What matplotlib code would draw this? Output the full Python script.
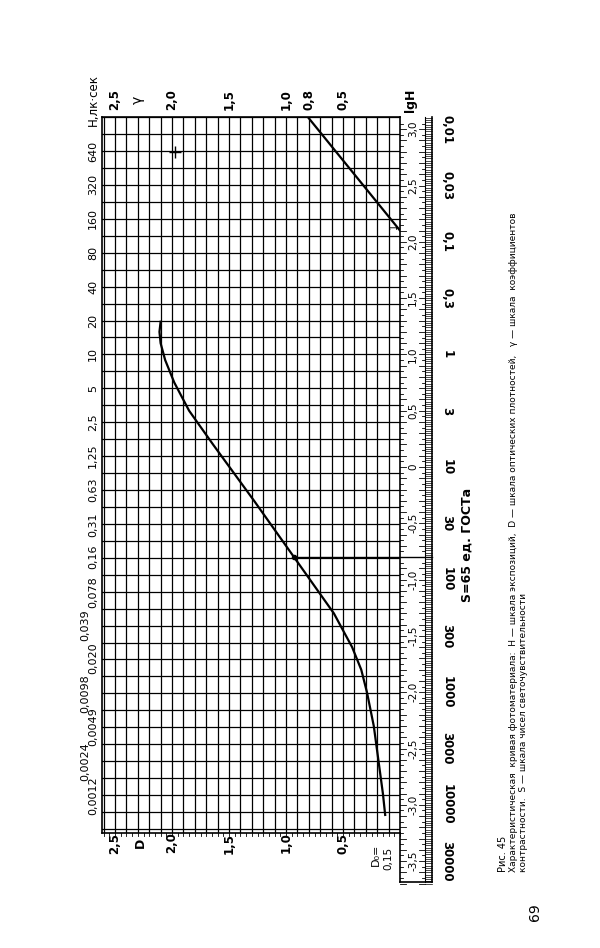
import matplotlib
matplotlib.use("Agg")
import matplotlib.pyplot as plt
import numpy as np

plt.rcParams['font.family'] = ['DejaVu Sans']

# characteristic curve
curve_lgH = [-3.09, -2.9, -2.6, -2.3, -2.0, -1.8, -1.6, -1.45, -1.3, -0.8, -0.3, 0.2, 0.5, 0.75, 0.95, 1.1, 1.2, 1.29]
curve_D = [0.13, 0.15, 0.19, 0.23, 0.29, 0.34, 0.42, 0.50, 0.58, 0.93, 1.28, 1.64, 1.85, 1.98, 2.06, 2.10, 2.11, 2.10]
# gamma line
gamma_lgH = [2.1, 3.11]
gamma_D = [0.0, 0.81]
# sensitivity point
s_point = (0.93, -0.8)

D_labels = ["2,5", "2,0", "1,5", "1,0", "0,5"]
D_vals = [2.5, 2.0, 1.5, 1.0, 0.5]
G_labels = ["2,5", "2,0", "1,5", "1,0", "0,8", "0,5"]
G_vals = [2.5, 2.0, 1.5, 1.0, 0.8, 0.5]
H_labels = ["0,0012", "0,0024", "0,0049", "0,0098", "0,020", "0,039", "0,078", "0,16", "0,31", "0,63",
            "1,25", "2,5", "5", "10", "20", "40", "80", "160", "320", "640"]
H_vals = [0.0012, 0.0024, 0.0049, 0.0098, 0.020, 0.039, 0.078, 0.16, 0.31, 0.63,
          1.25, 2.5, 5, 10, 20, 40, 80, 160, 320, 640]
lg_vals = [3.0, 2.5, 2.0, 1.5, 1.0, 0.5, 0.0, -0.5, -1.0, -1.5, -2.0, -2.5, -3.0, -3.5]
lg_labels = ["3,0", "2,5", "2,0", "1,5", "1,0", "0,5", "0", "-0,5", "-1,0", "-1,5", "-2,0", "-2,5", "-3,0", "-3,5"]
S_labels = ["0,01", "0,03", "0,1", "0,3", "1", "3", "10", "30", "100", "300", "1000", "3000", "10000", "30000"]

W, Hh = 600, 948
fig = plt.figure(figsize=(6, 9.48), dpi=100)
x0, x1, ytop, ybot = 102, 400, 117, 833
ax = fig.add_axes([x0 / W, 1 - ybot / Hh, (x1 - x0) / W, (ybot - ytop) / Hh])
PXD = 114.0
PXL = 112.6
ax.set_xlim((x1 - x0) / PXD, 0)
ax.set_ylim((467 - ybot) / PXL, (467 - ytop) / PXL)
ax.set_xticks([]); ax.set_yticks([])
for s in ax.spines.values():
    s.set_linewidth(1.2)

def dx(px):
    return (400 - px) / PXD

def ly(py):
    return (467 - py) / PXL

# grid
for d in np.arange(0.1, 2.61, 0.1):
    ax.axvline(d, color='black', lw=0.9)
for k in range(-30, 15):
    v = 1 + k * np.log10(2) / 2
    if ly(833) < v < ly(117):
        ax.axhline(v, color='black', lw=0.9)
# small D ticks under the grid
for d in np.arange(0.0, 2.61, 0.05):
    ax.plot([d, d], [ly(833), ly(836)], color='black', lw=0.6, clip_on=False)

ax.plot(curve_D, curve_lgH, color='black', lw=1.6, clip_on=False)
ax.plot(gamma_D, gamma_lgH, color='black', lw=1.6)
ax.plot([s_point[0], dx(432)], [s_point[1], s_point[1]], color='black', lw=1.0, clip_on=False)
ax.plot([s_point[0]], [s_point[1]], 'o', color='black', ms=3)
ax.plot([1.97], [2.8], '+', color='black', ms=8, mew=1)
ax.text(0.05, 2.14, "1", fontsize=7, rotation=90, ha='center', va='center')

# lgH ruler strip
top_l, bot_l = ly(117), ly(882)
xa, xb, xc = dx(400), dx(425), dx(432)
ax.plot([xb, xb], [bot_l, top_l], color='black', lw=0.8, clip_on=False)
ax.plot([xc, xc], [bot_l, top_l], color='black', lw=1.2, clip_on=False)
ax.plot([xa, xa], [bot_l, ly(833)], color='black', lw=1.2, clip_on=False)
ax.plot([xa, xc], [bot_l, bot_l], color='black', lw=1.2, clip_on=False)
for v in np.arange(-3.7, 3.1, 0.05):
    ln = 6 if abs(v * 10 - round(v * 10)) < 1e-6 else 3
    ax.plot([xa, dx(400 + ln)], [v, v], color='black', lw=0.6, clip_on=False)
    ax.plot([xb, dx(425 - ln)], [v, v], color='black', lw=0.6, clip_on=False)
for v in np.arange(-3.7, 3.1, 0.02):
    ax.plot([xb, xc], [v, v], color='black', lw=0.5, clip_on=False)
for v, lab in zip(lg_vals, lg_labels):
    ax.text(dx(413), v, lab, rotation=90, ha='center', va='center', fontsize=7.5,
            bbox=dict(fc='white', ec='none', pad=0.5))
for v, lab in zip(lg_vals, S_labels):
    ax.text(dx(447), v, lab, rotation=-90, ha='center', va='center', fontsize=8.5, fontweight='bold')

# axis labels
for v, lab in zip(D_vals, D_labels):
    ax.text(v, ly(843), lab, rotation=90, ha='center', va='center', fontsize=8.5, fontweight='bold')
ax.text(dx(140), ly(843), "D", rotation=90, ha='center', va='center', fontsize=9, fontweight='bold')
for v, lab in zip(G_vals, G_labels):
    ax.text(v, ly(100), lab, rotation=90, ha='center', va='center', fontsize=8.5, fontweight='bold')
ax.text(dx(138), ly(100), "γ", rotation=90, ha='center', va='center', fontsize=10)
ax.text(dx(410), ly(100), "lgH", rotation=90, ha='center', va='center', fontsize=9, fontweight='bold')
for i, (v, lab) in enumerate(zip(H_vals, H_labels)):
    if v < 0.05:
        xp = 93 if i % 2 == 0 else 85
    else:
        xp = 93
    ax.text(dx(xp), np.log10(v), lab, rotation=90, ha='center', va='center', fontsize=8)
ax.text(dx(93), ly(100), "H,лк·сек", rotation=90, ha='center', va='center', fontsize=8.5)
ax.text(dx(376), ly(855), "D₀=", rotation=90, ha='center', va='center', fontsize=8)
ax.text(dx(388), ly(858), "0,15", rotation=90, ha='center', va='center', fontsize=7.5)
ax.text(dx(467), ly(545), "S=65 ед. ГОСТа", rotation=90, ha='center', va='center', fontsize=9, fontweight='bold')

# caption
fig.text(503 / W, 1 - 872 / Hh, "Рис. 45", rotation=90, ha='center', va='bottom', fontsize=7)
fig.text(513 / W, 1 - 872 / Hh,
         "Характеристическая  кривая фотоматериала:  H — шкала экспозиций,  D — шкала оптических плотностей,   γ — шкала  коэффициентов",
         rotation=90, ha='center', va='bottom', fontsize=6.5)
fig.text(523 / W, 1 - 872 / Hh, "контрастности.  S — шкала чисел светочувствительности",
         rotation=90, ha='center', va='bottom', fontsize=6.5)
fig.text(535 / W, 1 - 912 / Hh, "69", rotation=90, ha='center', va='center', fontsize=10)

fig.savefig("out.png", dpi=100)
